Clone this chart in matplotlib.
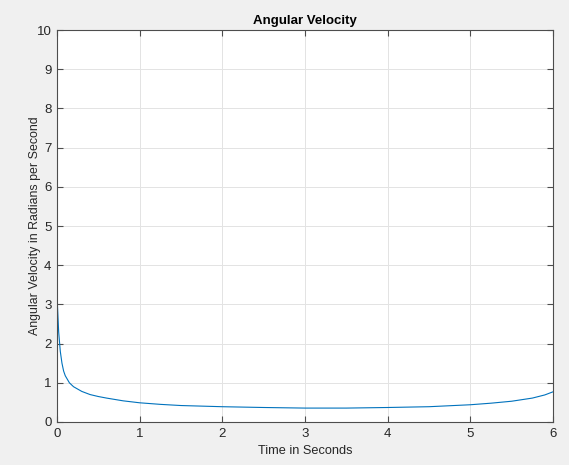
import matplotlib
matplotlib.use("Agg")
import matplotlib.pyplot as plt

t = [0, 0.005, 0.02, 0.04, 0.06, 0.08, 0.1, 0.15, 0.2, 0.3, 0.4, 0.5, 0.6, 0.8, 1.0,
     1.25, 1.5, 2.0, 2.5, 3.0, 3.5, 4.0, 4.5, 5.0, 5.25, 5.5, 5.75, 5.9, 6.0]
omega = [0, 3.0, 2.3, 1.8, 1.5, 1.3, 1.18, 1.0, 0.9, 0.78, 0.7, 0.65, 0.61, 0.54, 0.49,
         0.45, 0.42, 0.39, 0.37, 0.355, 0.355, 0.37, 0.39, 0.44, 0.48, 0.53, 0.61, 0.69, 0.77]
xticks = [0, 1, 2, 3, 4, 5, 6]
yticks = [0, 1, 2, 3, 4, 5, 6, 7, 8, 9, 10]

plt.rcParams['font.family'] = ['Liberation Sans', 'DejaVu Sans']
fig = plt.figure(figsize=(5.69, 4.65), dpi=100, facecolor='#f0f0f0')
ax = fig.add_axes([57/569, 1 - 422/465, (553-57)/569, (422-30)/465])
ax.plot(t, omega, color='#0072bd', lw=0.8)
ax.set_xlim(0, 6)
ax.set_ylim(0, 10)
ax.set_xticks(xticks)
ax.set_yticks(yticks)
ax.grid(True, color='#e3e3e3', lw=0.7)
ax.set_axisbelow(True)
ax.tick_params(direction='in', top=True, right=True, length=4, color='#4d4d4d',
               labelcolor='#262626', labelsize=9.5, pad=4)
for s in ax.spines.values():
    s.set_color('#4d4d4d')
    s.set_linewidth(0.8)
ax.set_title('Angular Velocity', fontsize=9.5, fontweight='bold', color='#000000', pad=4)
ax.set_xlabel('Time in Seconds', fontsize=9.2, color='#262626', labelpad=4)
ax.set_ylabel('Angular Velocity in Radians per Second', fontsize=8.9, color='#262626', labelpad=-3.5)
fig.savefig('out.png', dpi=100, facecolor=fig.get_facecolor())
